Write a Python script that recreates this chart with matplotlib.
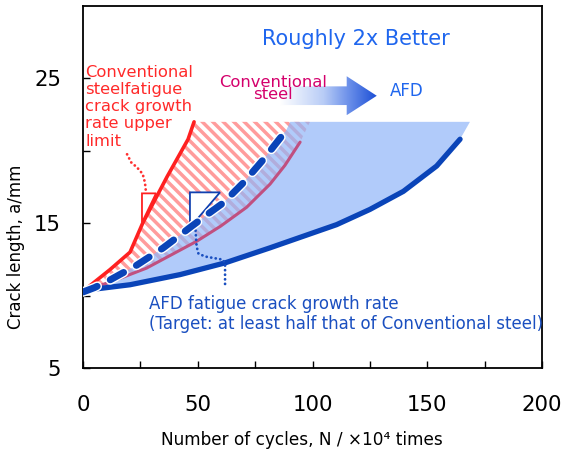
import numpy as np
import matplotlib
matplotlib.use('Agg')
import matplotlib.pyplot as plt
from matplotlib.patches import Polygon
from matplotlib.collections import LineCollection
from matplotlib.colors import LinearSegmentedColormap
from matplotlib.transforms import IdentityTransform
import matplotlib.patheffects as pe
from matplotlib.ticker import FixedLocator

plt.rcParams['font.family'] = ['DejaVu Sans']
plt.rcParams['lines.scale_dashes'] = False

# ---------------- data ----------------
# Conventional steel fatigue crack growth rate upper limit
N_upper = [0, 11.8, 20.5, 26.0, 36.6, 45.8, 48.4]
a_upper = [10.3, 11.8, 13.0, 15.0, 18.2, 20.8, 22.0]

# Conventional steel
N_conv = [0, 13, 27.7, 49.5, 60, 71.3, 81.5, 88, 94.6]
a_conv = [10.3, 11.0, 11.9, 13.75, 14.8, 16.1, 17.7, 19.0, 20.6]

# AFD target (dashed)
N_target = [0, 5, 12, 23.4, 35, 46.6, 55, 61.1, 69.9, 78.6, 88.5]
a_target = [10.25, 10.55, 11.1, 12.1, 13.3, 14.7, 15.7, 16.4, 17.8, 19.4, 21.4]

# AFD fatigue crack growth rate (solid)
N_afd = [0, 20.5, 42.3, 61.9, 81.5, 96, 110.5, 125, 139.6, 154.1, 164.3]
a_afd = [10.35, 10.75, 11.45, 12.26, 13.3, 14.1, 14.9, 15.95, 17.2, 18.95, 20.8]

# region limits
a_region_top = 22.0
N_hatch_right = 98.9
N_target_top = 90.3
N_fill_right = 168.6

x_ticks = [0, 50, 100, 150, 200]
x_minor = [25, 75, 125, 175]
y_ticks = [5, 15, 25]
y_minor = [10, 20]

# ---------------- figure ----------------
W, H = 567, 455
fig = plt.figure(figsize=(W / 100, H / 100), dpi=100)
ax = fig.add_axes([83 / W, 1 - 368 / H, (542 - 83) / W, (368 - 6) / H])
ax.set_xlim(0, 200)
ax.set_ylim(5, 30)

# hatched region (between upper limit and conventional steel)
hatch_verts = list(zip(N_upper, a_upper)) + [(N_hatch_right, a_region_top)] + \
    list(zip(N_conv[::-1], a_conv[::-1]))
hatch_poly = Polygon(hatch_verts, closed=True, transform=ax.transData,
                     facecolor='none', edgecolor='none')
segs = []
for c in np.arange(0, 1400, 10.5):
    segs.append([(c, 0), (c - 600, 600)])
lc = LineCollection(segs, colors='#ff9c9c', linewidths=2.5,
                    transform=IdentityTransform(), zorder=2)
ax.add_collection(lc, autolim=False)
lc.set_clip_path(hatch_poly)

# blue fill region (between AFD target and AFD curve)
fill_verts = list(zip(N_target, a_target)) + [(N_target_top, a_region_top),
                                              (N_fill_right, a_region_top)] + \
    list(zip(N_afd[::-1], a_afd[::-1]))
ax.add_patch(Polygon(fill_verts, closed=True, facecolor='#90b5f8', alpha=0.7,
                     edgecolor='none', zorder=3))

# lines
ax.plot(N_conv, a_conv, color='#c05080', lw=2.2, zorder=4, solid_capstyle='round')
ax.plot(N_afd, a_afd, color='#0a44b8', lw=3.8, zorder=5, solid_capstyle='round')
ax.plot(N_upper, a_upper, color='#ff2020', lw=2.6, zorder=5, solid_capstyle='round')
ln, = ax.plot(N_target, a_target, color='#0a44b8', lw=5, zorder=7,
              dash_capstyle='round')
ln.set_dashes([11, 10.5])
ln.set_path_effects([pe.Stroke(linewidth=7, foreground='white'), pe.Normal()])

# triangles and dotted leaders
ax.add_patch(Polygon([(25.7, 17.06), (31.8, 17.06), (25.7, 15.05)], closed=True,
                     facecolor='white', edgecolor='#ff2020', lw=1.3, zorder=6))
ax.add_patch(Polygon([(46.6, 17.13), (59.7, 17.13), (46.6, 14.7)], closed=True,
                     facecolor='white', edgecolor='#1040b0', lw=1.3, zorder=6))
d1, = ax.plot([19.2, 21.0, 23.5, 26.0, 27.0, 27.5], [19.76, 19.2, 18.86, 18.4, 17.8, 17.06],
              color='#ff3030', lw=2.0, zorder=6, dash_capstyle='round')
d1.set_dashes([0.1, 3.2])
d2, = ax.plot([48.8, 49.5, 50.3, 53.2, 61.0, 61.9, 61.9], [15.12, 13.4, 12.9, 12.7, 12.48, 12.2, 10.75],
              color='#1a4fc0', lw=2.0, zorder=6, dash_capstyle='round')
d2.set_dashes([0.1, 3.2])

# gradient arrow
arrow_verts = [(86, 24.45), (114.9, 24.45), (114.9, 25.15), (128, 23.8),
               (114.9, 22.46), (114.9, 23.16), (86, 23.16)]
arrow_poly = Polygon(arrow_verts, closed=True, transform=ax.transData)
cmap = LinearSegmentedColormap.from_list(
    'grad', [(0, '#ffffff'), (0.45, '#b8ccf6'), (0.7, '#6e92ea'), (1.0, '#1c4fd6')])
im = ax.imshow(np.linspace(0, 1, 256)[None, :], cmap=cmap, aspect='auto',
               extent=[86, 128, 22.46, 25.15], zorder=3, interpolation='bilinear')
im.set_clip_path(arrow_poly)
ax.set_xlim(0, 200)
ax.set_ylim(5, 30)

# texts
ax.text(119, 27.73, "Roughly 2x Better", color='#1f66ee', fontsize=15,
        ha='center', va='center', zorder=8)
ax.text(82.8, 24.3, "Conventional\nsteel", color='#d4006c', fontsize=11.8,
        ha='center', va='center', linespacing=0.8, zorder=8)
ax.text(133.8, 24.15, "AFD", color='#1f66ee', fontsize=12, ha='left',
        va='center', zorder=8)
ax.text(0.9, 25.95, "Conventional\nsteelfatigue\ncrack growth\nrate upper\nlimit",
        color='#ff2a2a', fontsize=11.8, ha='left', va='top', linespacing=1.19, zorder=8)
ax.text(28.9, 10.05, "AFD fatigue crack growth rate\n(Target: at least half that of Conventional steel)",
        color='#1a4fc0', fontsize=12, ha='left', va='top', linespacing=1.18, zorder=8)

# axes styling
ax.set_xticks(x_ticks)
ax.set_xticklabels([str(v) for v in x_ticks])
ax.xaxis.set_minor_locator(FixedLocator(x_minor))
ax.set_yticks(y_ticks)
ax.set_yticklabels([str(v) for v in y_ticks])
ax.yaxis.set_minor_locator(FixedLocator(y_minor))
ax.tick_params(axis='both', which='both', direction='in', length=5, width=1,
               top=False, right=False)
ax.tick_params(axis='x', which='major', labelsize=15.3, pad=19.5)
ax.tick_params(axis='y', which='major', labelsize=15.3, pad=15.8)
for s in ax.spines.values():
    s.set_linewidth(1.3)

ax.set_xlabel("Number of cycles, N / ×10⁴ times", fontsize=12.2)
ax.xaxis.set_label_coords(0.477, -0.199)
ax.xaxis.label.set_va('center')
ax.set_ylabel("Crack length, a/mm", fontsize=12)
ax.yaxis.set_label_coords(-0.146, 0.336)
ax.yaxis.label.set_va('center')

fig.savefig('out.png', dpi=100)
